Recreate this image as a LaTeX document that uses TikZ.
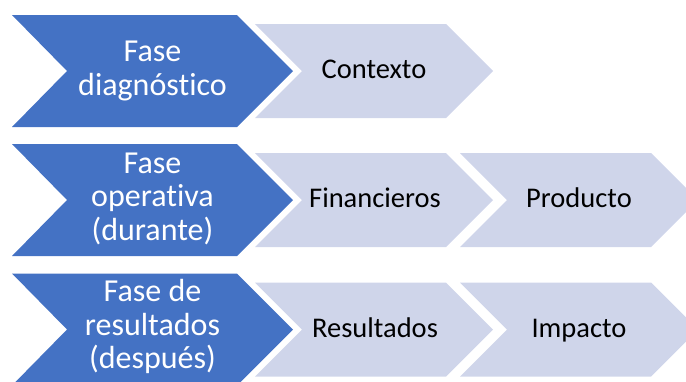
\documentclass[tikz,border=0pt]{standalone}
\usepackage{fontspec}
\setmainfont{Carlito}[RawFeature=-liga]
\definecolor{phaseblue}{HTML}{4472C4}
\definecolor{itemlight}{HTML}{CFD5EA}
\tikzset{
  phasefill/.style={fill=phaseblue, draw=none},
  itemfill/.style={fill=itemlight, draw=none},
  phasetext/.style={text=white, align=center, anchor=base, font=\fontsize{32}{33.3}\selectfont, inner sep=0pt},
  itemtext/.style={text=black, align=center, anchor=base, font=\fontsize{28.5}{33}\selectfont, inner sep=0pt},
}
\begin{document}
\begin{tikzpicture}[x=1pt,y=-1pt]
\useasboundingbox (0,0) rectangle (686,381);
\clip (0,0) rectangle (686,381);
\foreach \yc in {71,200,329.5} {
  \fill[phasefill] (12,\yc-56) -- (237,\yc-56) -- (293,\yc) -- (237,\yc+56) -- (12,\yc+56) -- (67,\yc) -- cycle;
  \fill[itemfill] (255,\yc-47) -- (446,\yc-47) -- (493,\yc) -- (446,\yc+47) -- (255,\yc+47) -- (302,\yc) -- cycle;
}
\foreach \yc in {200,329.5} {
  \fill[itemfill] (460,\yc-47) -- (651,\yc-47) -- (698,\yc) -- (651,\yc+47) -- (460,\yc+47) -- (507,\yc) -- cycle;
}
\node[phasetext] (p1) at (152.5,95) {Fase\\diagnóstico};
\node[phasetext] (p2) at (152.5,240) {Fase\\operativa\\(durante)};
\node[phasetext] (p3) at (152.5,368.5) {Fase de\\resultados\\(después)};
\node[itemtext] (c1) at (374,78.5) {Contexto};
\node[itemtext] (f2) at (375,207.5) {Financieros};
\node[itemtext] (pr2) at (579,207.5) {Producto};
\node[itemtext] (r3) at (375,337) {Resultados};
\node[itemtext] (i3) at (579,337) {Impacto};
\end{tikzpicture}
\end{document}
